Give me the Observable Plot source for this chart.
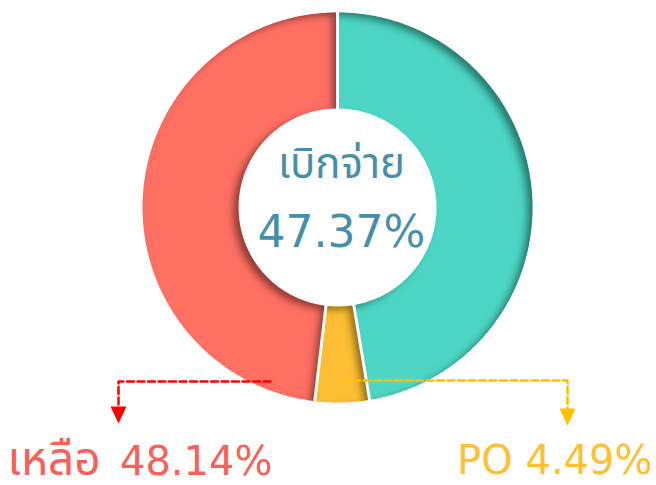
<!DOCTYPE html>
<html>
<head>
<meta charset="utf-8">
<script src="https://cdn.jsdelivr.net/npm/d3@7"></script>
<script src="https://cdn.jsdelivr.net/npm/@observablehq/plot@0.6"></script>
<style>
  html, body { margin: 0; padding: 0; background: #ffffff; }
  #chart svg { display: block; }
</style>
</head>
<body>
<div id="chart"></div>
<script>
// ---- data ----
const categories = ["เบิกจ่าย", "PO", "เหลือ"];
const values = [47.37, 4.49, 48.14];
const colors = ["#4DD6C3", "#FDBE34", "#FF6F63"];
const centerTitle = "เบิกจ่าย";
const centerValue = "47.37%";
const labelNames = ["เหลือ", "PO"];
const labelValues = ["48.14%", "4.49%"];
const labelColors = ["#F8605A", "#FFC034"];
const arrowColors = ["#FF0000", "#FFC000"];

// ---- layout (pixel space) ----
const W = 656, H = 485;
const cx = 337, cy = 207, rOuter = 195, rInner = 99;

const pie = d3.pie().sort(null).value(d => d.value);
const arcs = pie(categories.map((c, i) => ({name: c, value: values[i], color: colors[i]})));
const slicePts = [];
for (const a of arcs) {
  const n = Math.max(8, Math.ceil((a.endAngle - a.startAngle) / 0.008));
  const pts = [];
  for (let k = 0; k <= n; k++) {
    const t = a.startAngle + (a.endAngle - a.startAngle) * k / n;
    pts.push([cx + rOuter * Math.sin(t), cy - rOuter * Math.cos(t)]);
  }
  for (let k = n; k >= 0; k--) {
    const t = a.startAngle + (a.endAngle - a.startAngle) * k / n;
    pts.push([cx + rInner * Math.sin(t), cy - rInner * Math.cos(t)]);
  }
  pts.push(pts[0]);
  for (const p of pts) slicePts.push({name: a.data.name, color: a.data.color, x: p[0], y: p[1]});
}
// radial separators (white gaps) at each slice boundary
const sepPts = arcs.flatMap((a, i) => [rInner - 2, rOuter + 2].map(r => ({
  name: "s" + i, x: cx + r * Math.sin(a.startAngle), y: cy - r * Math.cos(a.startAngle)
})));

// leader arrows
const arrowPaths = [
  {name: "red", color: arrowColors[0], pts: [[270, 381], [118, 381], [118, 408]]},
  {name: "yel", color: arrowColors[1], pts: [[342, 380], [567, 380], [567, 409]]}
];
const arrowLines = arrowPaths.flatMap(a => a.pts.map(p => ({name: a.name, color: a.color, x: p[0], y: p[1]})));
const heads = [
  {name: "h1", color: arrowColors[0], x: 118, y: 406},
  {name: "h2", color: arrowColors[1], x: 567, y: 408}
];
const headPts = heads.flatMap(h => [[h.x - 8, h.y], [h.x + 8, h.y], [h.x, h.y + 17], [h.x - 8, h.y]].map(p => ({name: h.name, color: h.color, x: p[0], y: p[1]})));

const font = "'DejaVu Sans', 'Noto Sans Thai', Tahoma, sans-serif";
const one = [0];

const plot = Plot.plot({
  width: W, height: H,
  margin: 0,
  x: {domain: [0, W], range: [0, W], axis: null},
  y: {domain: [0, H], range: [0, H], axis: null},
  marks: [
    Plot.line(slicePts, {x: "x", y: "y", z: "name", fill: "color", stroke: "none", curve: "linear", className: "slice"}),
    Plot.line(sepPts, {x: "x", y: "y", z: "name", stroke: "white", strokeWidth: 3}),
    Plot.line(arrowLines, {x: "x", y: "y", z: "name", stroke: "color", strokeWidth: 2.5, strokeDasharray: "7,3.5"}),
    Plot.line(headPts, {x: "x", y: "y", z: "name", fill: "color", stroke: "none"}),
    Plot.text(one, {x: () => cx + 4, y: () => 164, text: () => centerTitle, fill: "#4590A8", fontSize: 42, fontFamily: font, textAnchor: "middle", lineAnchor: "middle"}),
    Plot.text(one, {x: () => cx + 4, y: () => 232, text: () => centerValue, fill: "#4590A8", fontSize: 44, fontFamily: font, textAnchor: "middle", lineAnchor: "middle"}),
    Plot.text(one, {x: () => 7, y: () => 460, text: () => labelNames[0], fill: labelColors[0], fontSize: 46, fontFamily: font, textAnchor: "start", lineAnchor: "middle"}),
    Plot.text(one, {x: () => 272, y: () => 462, text: () => labelValues[0], fill: labelColors[0], fontSize: 40, fontFamily: font, textAnchor: "end", lineAnchor: "middle"}),
    Plot.text(one, {x: () => 652, y: () => 461, text: () => labelNames[1] + " " + labelValues[1], fill: labelColors[1], fontSize: 40, fontFamily: font, textAnchor: "end", lineAnchor: "middle"})
  ]
});

// inner shadow filter for slices
const svg = d3.select(plot);
const defs = svg.insert("defs", ":first-child");
const f = defs.append("filter").attr("id", "inset").attr("x", "-20%").attr("y", "-20%").attr("width", "140%").attr("height", "140%");
f.append("feComponentTransfer").attr("in", "SourceAlpha").attr("result", "inv")
  .append("feFuncA").attr("type", "table").attr("tableValues", "1 0");
f.append("feGaussianBlur").attr("in", "inv").attr("stdDeviation", 3.5).attr("result", "blur");
f.append("feOffset").attr("in", "blur").attr("dx", -6).attr("dy", 4).attr("result", "off");
f.append("feFlood").attr("flood-color", "#000").attr("flood-opacity", 0.7).attr("result", "col");
f.append("feComposite").attr("in", "col").attr("in2", "off").attr("operator", "in").attr("result", "sh");
f.append("feComposite").attr("in", "sh").attr("in2", "SourceAlpha").attr("operator", "in").attr("result", "ish");
const m = f.append("feMerge");
m.append("feMergeNode").attr("in", "SourceGraphic");
m.append("feMergeNode").attr("in", "ish");
svg.selectAll("g.slice path").attr("filter", "url(#inset)");

document.getElementById("chart").appendChild(plot);
</script>
</body>
</html>
